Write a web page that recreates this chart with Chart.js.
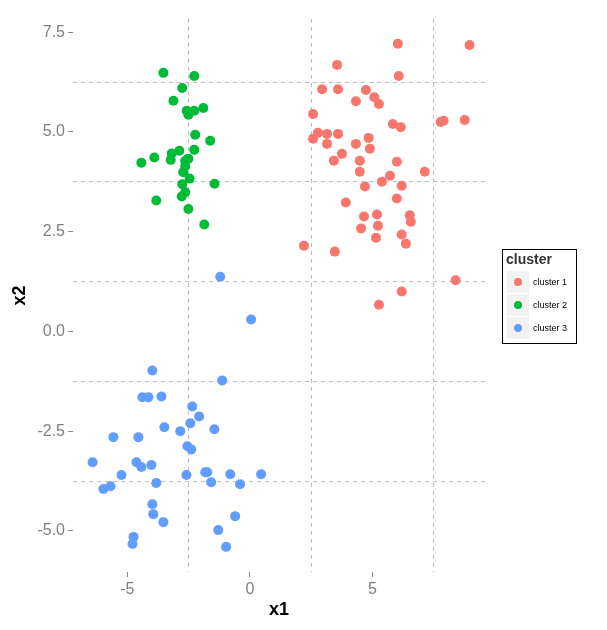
<!DOCTYPE html>
<html>
<head>
<meta charset="utf-8">
<script src="https://cdn.jsdelivr.net/npm/chart.js@4.4.1/dist/chart.umd.min.js"></script>
<style>
  html, body { margin: 0; padding: 0; background: #ffffff; }
  #wrap { width: 607px; height: 630px; }
</style>
</head>
<body>
<div id="wrap"><canvas id="chart" width="607" height="630"></canvas></div>
<script>
// Achsen: beschriftete Ticks und gestrichelte Zwischenlinien
const xMajor = [-5, 0, 5];
const xMinor = [-2.5, 2.5, 7.5];
const yMajor = [-5, -2.5, 0, 2.5, 5, 7.5];
const yMinor = [-3.75, -1.25, 1.25, 3.75, 6.25];

const clusterNames = ['cluster 1', 'cluster 2', 'cluster 3'];
const clusterColors = ['#F8766D', '#00BA38', '#619CFF'];

// cluster 1
const c1x = [6.04, 8.97, 3.56, 6.08, 2.95, 3.60, 4.74, 5.08, 5.27, 4.33, 2.58, 5.84, 6.16, 7.79, 7.91, 8.77,
             2.78, 2.58, 3.15, 3.60, 4.85, 3.15, 4.33, 4.90, 3.76, 3.43, 4.49, 6.00, 4.49, 7.14, 5.72, 5.39,
             4.70, 6.20, 3.92, 6.00, 4.66, 5.19, 6.53, 6.57, 5.23, 4.54, 5.15, 6.20, 6.37, 2.21, 3.47, 8.40,
             6.20, 5.27];
const c1y = [7.21, 7.18, 6.68, 6.40, 6.07, 6.07, 6.05, 5.87, 5.70, 5.77, 5.45, 5.20, 5.12, 5.25, 5.28, 5.30,
             4.98, 4.83, 4.95, 4.95, 4.85, 4.70, 4.70, 4.58, 4.45, 4.28, 4.28, 4.25, 4.00, 4.00, 3.90, 3.75,
             3.63, 3.65, 3.23, 3.33, 2.88, 2.93, 2.91, 2.75, 2.65, 2.58, 2.35, 2.43, 2.20, 2.15, 2.00, 1.28,
             1.00, 0.67];

// cluster 2
const c2x = [-3.53, -2.27, -2.76, -3.12, -2.58, -2.27, -2.51, -1.90, -2.23, -1.62, -2.27, -2.88, -3.19, -3.90,
             -4.43, -3.23, -2.51, -2.64, -2.64, -2.72, -2.46, -2.76, -1.44, -2.64, -2.78, -3.82, -2.51, -1.86];
const c2y = [6.48, 6.40, 6.10, 5.78, 5.53, 5.53, 5.43, 5.60, 4.93, 4.78, 4.55, 4.53, 4.46, 4.36,
             4.23, 4.30, 4.33, 4.27, 4.14, 3.99, 3.83, 3.69, 3.70, 3.49, 3.38, 3.28, 3.07, 2.68];

// cluster 3
const c3x = [-1.21, 0.05, -3.98, -1.13, -4.39, -4.14, -3.61, -2.35, -2.07, -2.43, -3.49, -2.84, -1.45, -5.57,
             -4.55, -2.55, -2.39, -6.42, -4.63, -4.43, -4.02, -5.24, -2.59, -1.82, -1.74, -0.80, 0.46, -1.58,
             -0.40, -3.82, -5.98, -5.69, -3.98, -3.94, -3.53, -0.60, -1.29, -4.75, -4.79, -0.97];
const c3y = [1.37, 0.30, -0.98, -1.23, -1.65, -1.65, -1.63, -1.88, -2.13, -2.30, -2.40, -2.50, -2.45, -2.65,
             -2.65, -2.88, -2.96, -3.28, -3.28, -3.40, -3.35, -3.60, -3.60, -3.53, -3.53, -3.58, -3.58, -3.78,
             -3.83, -3.80, -3.95, -3.88, -4.33, -4.58, -4.78, -4.63, -4.98, -5.15, -5.33, -5.40];

const toPoints = (xs, ys) => xs.map((x, i) => ({ x: x, y: ys[i] }));
const seriesX = [c1x, c2x, c3x];
const seriesY = [c1y, c2y, c3y];

const FONT = "'Liberation Sans', Arial, sans-serif";
const GRID = '#bdbdbd';
const TICK = '#8a8a8a';

function axis(major, minor, fmt, opts) {
    return Object.assign({
        type: 'linear',
        afterBuildTicks: (scale) => {
            scale.ticks = major.concat(minor).sort((a, b) => a - b).map(v => ({ value: v }));
        },
        border: { display: false, dash: [4, 4] },
        grid: {
            lineWidth: 1,
            color: (ctx) => (ctx.tick && minor.includes(ctx.tick.value)) ? GRID : 'rgba(0,0,0,0)',
            tickColor: (ctx) => (ctx.tick && major.includes(ctx.tick.value)) ? TICK : 'rgba(0,0,0,0)',
            tickLength: 5,
            tickBorderDash: []
        },
        ticks: {
            autoSkip: false,
            maxRotation: 0,
            padding: 3,
            color: '#7f7f7f',
            font: { family: FONT, size: 16 },
            callback: (v) => major.includes(v) ? fmt(v) : ''
        }
    }, opts);
}

// Legende im ggplot-Stil
const legendBox = {
    id: 'legendBox',
    afterDraw(chart) {
        const ctx = chart.ctx;
        const left = 502, top = 249;
        ctx.save();
        ctx.strokeStyle = '#000000';
        ctx.lineWidth = 1;
        ctx.strokeRect(left + 0.5, top + 0.5, 74, 94);

        ctx.fillStyle = '#333333';
        ctx.font = 'bold 14px ' + FONT;
        ctx.textBaseline = 'middle';
        ctx.textAlign = 'left';
        ctx.fillText('cluster', left + 4, top + 11);

        chart.data.datasets.forEach((ds, i) => {
            const y = top + 22 + i * 23;
            ctx.fillStyle = '#f2f2f2';
            ctx.fillRect(left + 5, y, 22, 22);
            ctx.fillStyle = ds.backgroundColor;
            ctx.beginPath();
            ctx.arc(left + 16, y + 11, 4, 0, Math.PI * 2);
            ctx.fill();
            ctx.fillStyle = '#000000';
            ctx.font = '9px ' + FONT;
            ctx.fillText(ds.label, left + 31, y + 11.5);
        });
        ctx.restore();
    }
};

new Chart(document.getElementById('chart'), {
    type: 'scatter',
    data: {
        datasets: clusterNames.map((name, i) => ({
            label: name,
            data: toPoints(seriesX[i], seriesY[i]),
            backgroundColor: clusterColors[i],
            borderWidth: 0,
            pointRadius: 5,
            pointHoverRadius: 5
        }))
    },
    options: {
        responsive: false,
        animation: false,
        devicePixelRatio: 1,
        layout: { padding: { top: 19, right: 122, left: 0, bottom: 0 } },
        plugins: {
            legend: { display: false },
            tooltip: { enabled: false }
        },
        scales: {
            x: axis(xMajor, xMinor, v => String(v), {
                min: -7.22, max: 9.6,
                afterFit: (s) => { s.height = 58; },
                title: {
                    display: true, text: 'x1', color: '#000000',
                    font: { family: FONT, size: 18, weight: 'bold', lineHeight: 1.2 },
                    padding: { top: 0, bottom: 9 }
                }
            }),
            y: axis(yMajor, yMinor, v => v.toFixed(1), {
                min: -6.03, max: 7.83,
                afterFit: (s) => { s.width = 73; },
                title: {
                    display: true, text: 'x2', color: '#000000',
                    font: { family: FONT, size: 18, weight: 'bold', lineHeight: 1.2 },
                    padding: { top: 9, bottom: 0 }
                }
            })
        }
    },
    plugins: [legendBox]
});
</script>
</body>
</html>
